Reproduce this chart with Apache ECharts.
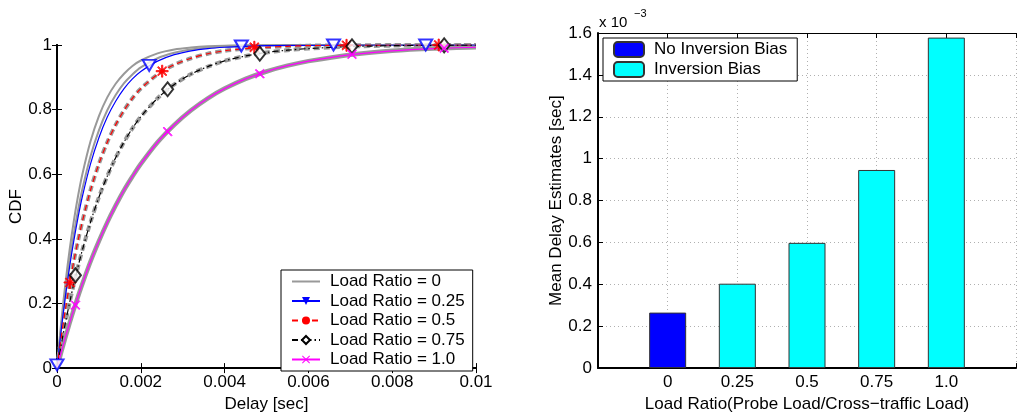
<!DOCTYPE html>
<html lang="en">
  <head>
    <meta charset="UTF-8" />
    <title>Delay CDF and mean delay estimates</title>
    <script src="https://cdn.jsdelivr.net/npm/echarts@6/dist/echarts.min.js"></script>
  </head>

  <body style="margin: 0">
    <div id="main" style="width: 1019px; height: 418px"></div>

    <script type="text/javascript">
      const delaySec = [0, 0.0001, 0.0002, 0.0003, 0.0004, 0.0005, 0.0006, 0.0008, 0.001, 0.0012, 0.0014,
        0.0016, 0.0018, 0.002, 0.0024, 0.0028, 0.0032, 0.0036, 0.004, 0.0045, 0.005, 0.0055, 0.006,
        0.007, 0.008, 0.009, 0.01];

      // CDF curves, one per load ratio
      const cdfRatio0 = [0, 0.141, 0.261, 0.365, 0.454, 0.531, 0.597, 0.702, 0.78, 0.838, 0.88, 0.911,
        0.935, 0.952, 0.974, 0.986, 0.992, 0.996, 0.998, 0.999, 0.999, 1, 1, 1, 1, 1, 1];
      const cdfRatio025 = [0, 0.118, 0.221, 0.313, 0.393, 0.465, 0.528, 0.632, 0.713, 0.777, 0.826, 0.865,
        0.895, 0.918, 0.95, 0.97, 0.982, 0.989, 0.993, 0.996, 0.998, 0.999, 0.999, 1, 1, 1, 1];
      // gray reference curve drawn just under the 0.25 curve
      const cdfRatio025Ref = [0, 0.125, 0.234, 0.33, 0.413, 0.487, 0.551, 0.656, 0.736, 0.798, 0.845, 0.882,
        0.909, 0.931, 0.959, 0.976, 0.986, 0.992, 0.995, 0.998, 0.999, 0.999, 1, 1, 1, 1, 1];
      const cdfRatio05 = [0, 0.095, 0.181, 0.259, 0.33, 0.393, 0.451, 0.551, 0.632, 0.699, 0.753, 0.798,
        0.835, 0.865, 0.909, 0.939, 0.959, 0.973, 0.982, 0.989, 0.993, 0.996, 0.998, 0.999, 1, 1, 1];
      const cdfRatio075 = [0, 0.072, 0.14, 0.202, 0.26, 0.313, 0.363, 0.452, 0.529, 0.594, 0.651, 0.7,
        0.742, 0.778, 0.835, 0.878, 0.91, 0.933, 0.951, 0.966, 0.977, 0.984, 0.989, 0.995, 0.998, 0.999, 1];
      const cdfRatio10 = [0, 0.049, 0.095, 0.139, 0.181, 0.221, 0.259, 0.33, 0.393, 0.451, 0.503, 0.551,
        0.593, 0.632, 0.699, 0.753, 0.798, 0.835, 0.865, 0.895, 0.918, 0.936, 0.95, 0.97, 0.982, 0.989, 0.993];

      // marker positions [delay, cdf]
      const marks025 = [[0, 0.01], [0.0022, 0.937], [0.0044, 0.997], [0.0066, 1], [0.0088, 1]];
      const marks05 = [[0.00031, 0.265], [0.00251, 0.919], [0.00471, 0.993], [0.00691, 0.999], [0.00911, 1]];
      const marks075 = [[0.00044, 0.287], [0.00264, 0.863], [0.00484, 0.973], [0.00704, 0.996], [0.00924, 0.999]];
      const marks10 = [[0.00044, 0.195], [0.00264, 0.732], [0.00484, 0.911], [0.00704, 0.971], [0.00924, 0.99]];

      // bar chart: mean delay estimates, in units of 1e-3 sec
      const loadRatioLabels = ["0", "0.25", "0.5", "0.75", "1.0"];
      const meanDelayNoBias = [0.265];
      const meanDelayBias = [0.403, 0.598, 0.946, 1.578];

      const FONT = "Liberation Sans";
      const FS = 17;
      const txt = { color: "#000", fontFamily: FONT, fontSize: FS };

      const asterisk =
        "path://M5.4,0L6.6,0L6.6,12L5.4,12ZM0,5.4L12,5.4L12,6.6L0,6.6Z" +
        "M2.18,1.34L10.66,9.82L9.82,10.66L1.34,2.18ZM9.82,1.34L10.66,2.18L2.18,10.66L1.34,9.82Z";
      const cross =
        "path://M0.84,0L10,9.16L9.16,10L0,0.84ZM9.16,0L10,0.84L0.84,10L0,9.16Z";

      function pairs(ys) {
        return delaySec.map((x, i) => [x, ys[i]]);
      }

      function curve(name, ys, color, width, type, extra) {
        return Object.assign(
          {
            name: name,
            type: "line",
            xAxisIndex: 0,
            yAxisIndex: 0,
            data: pairs(ys),
            smooth: 0.3,
            symbol: "none",
            showSymbol: false,
            silent: true,
            lineStyle: { color: color, width: width, type: type },
            itemStyle: { color: color },
          },
          extra || {}
        );
      }

      function marks(data, symbol, size, color, rotate) {
        return {
          type: "scatter",
          xAxisIndex: 0,
          yAxisIndex: 0,
          data: data,
          symbol: symbol,
          symbolSize: size,
          symbolRotate: rotate || 0,
          silent: true,
          itemStyle: { color: color, borderColor: color, borderWidth: 1 },
          z: 5,
        };
      }

      const GRAY = "#999999";
      const dashed = [6, 4];
      const dashDot = [6, 3, 1.5, 3];

      let myChart = echarts.init(document.getElementById("main"));

      let options = {
        animation: false,
        textStyle: { fontFamily: FONT, fontSize: FS, color: "#000" },
        grid: [
          { left: 57, top: 45, width: 419, height: 330 },
          { left: 598, top: 33, width: 432, height: 341 },
        ],
        xAxis: [
          {
            gridIndex: 0, type: "value", min: 0, max: 0.01, interval: 0.002,
            name: "Delay [sec]", nameLocation: "middle", nameGap: 22, nameTextStyle: txt,
            axisLine: { lineStyle: { color: "#000", width: 2 } },
            axisTick: { inside: true, length: 5, lineStyle: { color: "#000" } },
            axisLabel: { margin: 6, color: "#000", fontFamily: FONT, fontSize: FS },
            splitLine: { show: false },
          },
          {
            gridIndex: 0, type: "value", position: "top", min: 0, max: 0.01, interval: 0.002,
            axisLine: { lineStyle: { color: "#000", width: 1 } },
            axisTick: { inside: true, length: 5, lineStyle: { color: "#000" } },
            axisLabel: { show: false }, splitLine: { show: false },
          },
          {
            gridIndex: 1, type: "value", min: 0, max: 6, interval: 1,
            name: "Load Ratio(Probe Load/Cross\u2212traffic Load)", nameLocation: "middle", nameGap: 23,
            nameTextStyle: txt,
            axisLine: { lineStyle: { color: "#000", width: 2 } },
            axisTick: { inside: true, length: 5, lineStyle: { color: "#000" } },
            axisLabel: {
              margin: 6, color: "#000", fontFamily: FONT, fontSize: FS,
              formatter: (v) => loadRatioLabels[v - 1] || "",
            },
            splitLine: { show: true, lineStyle: { color: "#b0b0b0", type: [1, 3] } },
          },
          {
            gridIndex: 1, type: "value", position: "top", min: 0, max: 6, interval: 1,
            axisLine: { lineStyle: { color: "#000", width: 1 } },
            axisTick: { inside: true, length: 5, lineStyle: { color: "#000" } },
            axisLabel: { show: false }, splitLine: { show: false },
          },
        ],
        yAxis: [
          {
            gridIndex: 0, type: "value", min: 0, max: 1, interval: 0.2,
            name: "CDF", nameLocation: "middle", nameGap: 31, nameTextStyle: txt,
            axisLine: { lineStyle: { color: "#000", width: 2 } },
            axisTick: { inside: true, length: 5, lineStyle: { color: "#000" } },
            axisLabel: { margin: 5, color: "#000", fontFamily: FONT, fontSize: FS },
            splitLine: { show: false },
          },
          {
            gridIndex: 0, type: "value", position: "right", min: 0, max: 1, interval: 0.2,
            axisLine: { lineStyle: { color: "#000", width: 2 } },
            axisTick: { inside: true, length: 5, lineStyle: { color: "#000" } },
            axisLabel: { show: false }, splitLine: { show: false },
          },
          {
            gridIndex: 1, type: "value", min: 0, max: 1.6, interval: 0.2,
            name: "Mean Delay Estimates [sec]", nameLocation: "middle", nameGap: 32, nameTextStyle: txt,
            axisLine: { lineStyle: { color: "#000", width: 2 } },
            axisTick: { inside: true, length: 5, lineStyle: { color: "#000" } },
            axisLabel: { margin: 6, color: "#000", fontFamily: FONT, fontSize: FS },
            splitLine: { show: true, lineStyle: { color: "#b0b0b0", type: [1, 3] } },
          },
        ],
        legend: [
          {
            data: ["Load Ratio = 0", "Load Ratio = 0.25", "Load Ratio = 0.5", "Load Ratio = 0.75", "Load Ratio = 1.0"],
            orient: "vertical", left: 281, top: 270,
            padding: [3, 8, 3, 10], itemGap: 2.5, itemWidth: 28, itemHeight: 10,
            backgroundColor: "#fff", borderColor: "#000", borderWidth: 1, borderRadius: 0,
            textStyle: { color: "#000", fontFamily: FONT, fontSize: FS, padding: [0, 0, 0, 5] },
            selectedMode: false,
          },
          {
            data: ["No Inversion Bias", "Inversion Bias"],
            orient: "vertical", left: 603, top: 38,
            padding: [3, 10, 3, 10], itemGap: 3, itemWidth: 30, itemHeight: 15,
            backgroundColor: "#fff", borderColor: "#000", borderWidth: 1, borderRadius: 0,
            textStyle: { color: "#000", fontFamily: FONT, fontSize: FS, padding: [0, 0, 0, 5] },
            selectedMode: false,
          },
        ],
        graphic: [
          { type: "text", left: 599, top: 15, style: { text: "x 10", fill: "#000", fontSize: 15, fontFamily: FONT } },
          { type: "text", left: 634, top: 8, style: { text: "\u22123", fill: "#000", fontSize: 11, fontFamily: FONT } },
        ],
        series: [
          // gray reference curves underneath; the legend entry of the first shows a plain line
          curve("Load Ratio = 0", cdfRatio0, GRAY, 2, "solid",
            { symbol: "circle", itemStyle: { color: "rgba(0,0,0,0)" } }),
          curve("ref025", cdfRatio025Ref, GRAY, 2, "solid"),
          curve("ref05", cdfRatio05, GRAY, 4, dashed),
          curve("ref075", cdfRatio075, GRAY, 4, dashed),
          curve("ref10", cdfRatio10, GRAY, 4.5, "solid"),
          // measured curves
          curve("Load Ratio = 0.25", cdfRatio025, "#0000ff", 1.2, "solid",
            { symbol: "triangle", symbolRotate: 180, symbolSize: 8 }),
          curve("Load Ratio = 0.5", cdfRatio05, "#ff0000", 1.2, dashed,
            { symbol: "circle", symbolSize: 6 }),
          curve("Load Ratio = 0.75", cdfRatio075, "#000000", 1.2, dashDot,
            { symbol: "emptyDiamond", symbolSize: [8, 10] }),
          curve("Load Ratio = 1.0", cdfRatio10, "#ff00ff", 1.2, "solid",
            { symbol: cross, symbolSize: 7 }),
          marks(marks025, "emptyTriangle", [13, 11], "#0000ff", 180),
          marks(marks05, asterisk, 12, "#ff0000"),
          marks(marks075, "emptyDiamond", [11, 14], "#000000"),
          marks(marks10, cross, 9, "#ff00ff"),
          // bars
          {
            name: "No Inversion Bias", type: "bar", xAxisIndex: 2, yAxisIndex: 2,
            data: meanDelayNoBias.map((v, i) => [i + 1, v]),
            barWidth: 37, barGap: "-100%",
            itemStyle: { color: "#0000ff", borderColor: "#333", borderWidth: 1 },
          },
          {
            name: "Inversion Bias", type: "bar", xAxisIndex: 2, yAxisIndex: 2,
            data: meanDelayBias.map((v, i) => [i + 2, v]),
            barWidth: 37, barGap: "-100%",
            itemStyle: { color: "#00ffff", borderColor: "#333", borderWidth: 1 },
          },
        ],
      };

      myChart.setOption(options);
    </script>
  </body>
</html>
